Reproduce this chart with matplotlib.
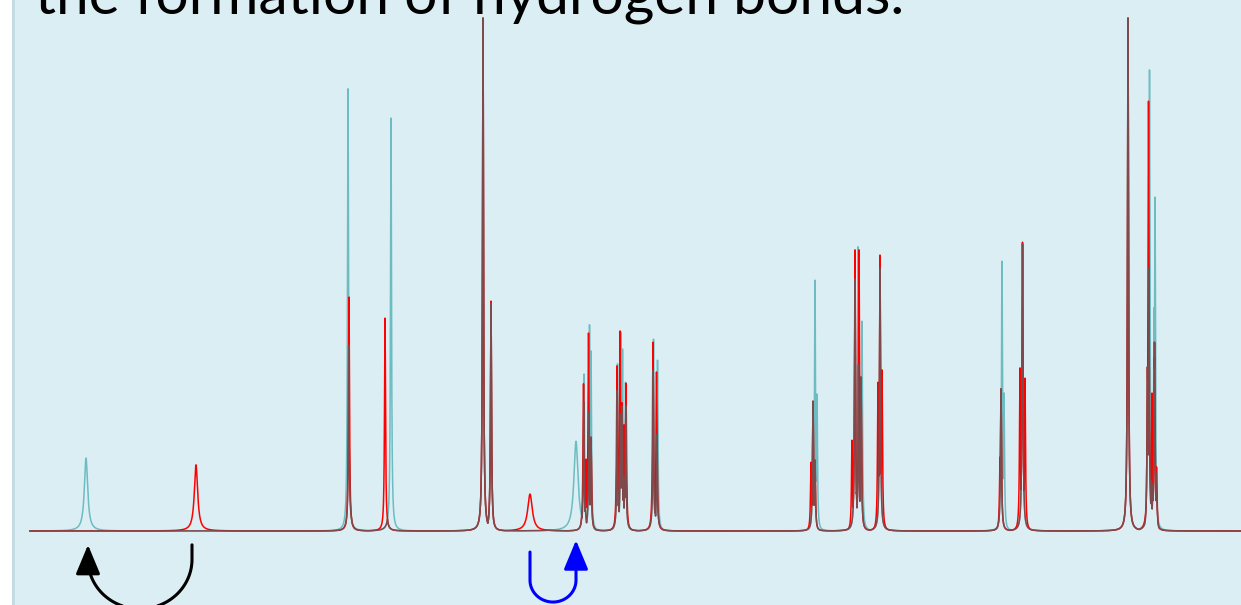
import numpy as np
import matplotlib
matplotlib.use("Agg")
import matplotlib.pyplot as plt
from matplotlib.patches import Rectangle, ArrowStyle, FancyArrowPatch
from matplotlib.path import Path

# Peak lists: chemical shift (ppm), relative height, line width (ppm)
teal_shift = [11.55, 8.93, 8.50, 7.58, 7.50, 6.65, 6.57, 6.515, 6.50,
              6.235, 6.20, 6.185, 6.155, 5.875, 5.835, 4.28, 4.26, 4.24,
              3.86, 3.83, 3.80, 3.79, 3.61, 2.40, 2.39, 2.37, 2.185,
              1.13, 0.935, 0.915, 0.87, 0.86]
teal_height = [0.142, 0.862, 0.805, 1.0, 0.444, 0.175, 0.306, 0.402, 0.351,
               0.326, 0.388, 0.355, 0.29, 0.374, 0.333, 0.253, 0.489, 0.267,
               0.491, 0.554, 0.30, 0.409, 0.513, 0.277, 0.526, 0.269, 0.56,
               1.0, 0.32, 0.899, 0.435, 0.651]
teal_width = [0.04, 0.012, 0.012, 0.012, 0.012, 0.05, 0.012, 0.012, 0.012,
              0.012, 0.012, 0.012, 0.012, 0.012, 0.012, 0.012, 0.012, 0.012,
              0.012, 0.012, 0.012, 0.012, 0.012, 0.012, 0.012, 0.012, 0.012,
              0.012, 0.012, 0.012, 0.012, 0.012]

red_shift = [10.45, 8.92, 8.56, 7.58, 7.50, 7.11, 6.575, 6.55, 6.525, 6.50,
             6.24, 6.21, 6.19, 6.17, 6.15, 5.88, 5.845, 4.30, 4.28, 4.26,
             3.89, 3.86, 3.82, 3.80, 3.63, 3.61, 3.59, 2.41, 2.40, 2.21,
             2.185, 2.16, 1.13, 0.935, 0.925, 0.89, 0.865, 0.845]
red_height = [0.129, 0.456, 0.415, 1.0, 0.448, 0.072, 0.287, 0.14, 0.386, 0.183,
              0.322, 0.39, 0.25, 0.207, 0.288, 0.368, 0.31, 0.134, 0.253, 0.138,
              0.177, 0.548, 0.548, 0.30, 0.29, 0.538, 0.314, 0.144, 0.277, 0.318,
              0.563, 0.298, 1.0, 0.32, 0.838, 0.269, 0.368, 0.125]
red_width = [0.04, 0.012, 0.012, 0.012, 0.012, 0.055, 0.012, 0.012, 0.012, 0.012,
             0.012, 0.012, 0.012, 0.012, 0.012, 0.012, 0.012, 0.012, 0.012, 0.012,
             0.012, 0.012, 0.012, 0.012, 0.012, 0.012, 0.012, 0.012, 0.012, 0.012,
             0.012, 0.012, 0.012, 0.012, 0.012, 0.012, 0.012, 0.012]

title = "the formation of hydrogen bonds."

# peak moves shown by the arrows (from shift, to shift)
black_move = (10.49, 11.53)
blue_move = (7.11, 6.65)


def spectrum(x, shifts, heights, widths):
    y = np.zeros_like(x)
    for s, h, w in zip(shifts, heights, widths):
        hw = w / 2
        y = np.maximum(y, h * hw**2 / ((x - s)**2 + hw**2))
    return y


ppm = np.linspace(12.11, 0.0, 80000)
teal = spectrum(ppm, teal_shift, teal_height, teal_width)
red = spectrum(ppm, red_shift, red_height, red_width)
both = np.minimum(teal, red)

W, H = 1241, 605
fig = plt.figure(figsize=(W / 100, H / 100), dpi=100)
fig.patch.set_facecolor("white")
ax = fig.add_axes([12 / W, 0, 1 - 12 / W, 1])
ax.set_xlim(12.29, 0)
ax.set_ylim(-74 / 513, 531 / 513)
ax.axis("off")
ax.add_patch(Rectangle((0, 0), 1, 1, transform=ax.transAxes, facecolor="#dbeef4",
                       edgecolor="none", zorder=0))
fig.patches.append(Rectangle((12 / W, 0), 3 / W, 1, transform=fig.transFigure,
                             facecolor="#c4dbe4", edgecolor="none", zorder=5))

ax.plot(ppm, teal, color="#6dbcc1", lw=1.1, zorder=2)
ax.plot(ppm, red, color="#ff0000", lw=1.1, zorder=3)
ax.plot(ppm, both, color="#7e4a4b", lw=1.1, zorder=4)


def curved_arrow(x0, y0, x1, y1, depth, color):
    # U-shaped arrow under the baseline, drawn in pixel space then mapped back
    (ax0, ay0), (ax1, ay1) = ax.transData.transform([(x0, y0), (x1, y1)])
    cx, rx = (ax0 + ax1) / 2, abs(ax1 - ax0) / 2
    cy = min(ay0, ay1) - depth + rx * 0.95
    t = np.linspace(0, np.pi, 60)
    sgn = 1 if ax0 > ax1 else -1
    ex = cx + sgn * rx * np.cos(t)
    ey = cy - (rx * 0.95) * np.sin(t)
    pts = np.vstack([[ax0, ay0], np.column_stack([ex, ey]), [ax1, ay1]])
    pts = ax.transData.inverted().transform(pts)
    head = ArrowStyle("-|>", head_length=1.8, head_width=0.75)
    ax.add_patch(FancyArrowPatch(path=Path(pts), arrowstyle=head, color=color,
                                 lw=2.2, mutation_scale=10, zorder=6))


curved_arrow(black_move[0], -0.027, black_move[1], -0.027, 64, "black")
curved_arrow(blue_move[0], -0.041, blue_move[1], -0.018, 50, "#0000ff")

t = fig.text(35 / W, 1 - 13 / H, title, fontsize=36, family="Lato",
             va="baseline", ha="left", color="black")
r = fig.canvas.get_renderer()
wpx = t.get_window_extent(r).width
t.set_fontsize(36 * 870 / wpx)

fig.savefig("out.png", dpi=100)
